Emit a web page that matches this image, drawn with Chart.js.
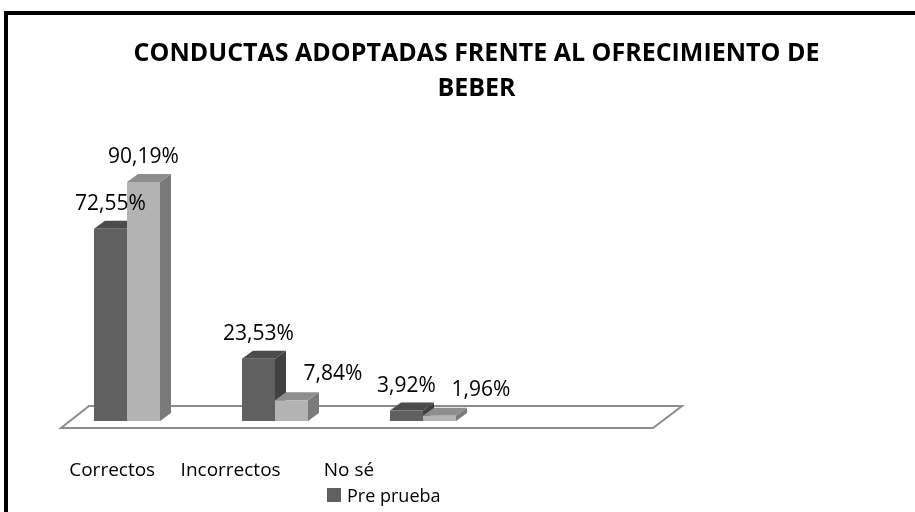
<!DOCTYPE html>
<html lang="es">
<head>
  <meta charset="UTF-8">
  <title>Conductas adoptadas frente al ofrecimiento de beber</title>
  <script src="https://cdn.jsdelivr.net/npm/chart.js"></script>
  <style>
    html, body { margin: 0; padding: 0; background: #fff; overflow: hidden; }
    #wrap { position: relative; width: 915px; height: 512px; overflow: hidden; }
    #frame {
      position: absolute; left: 4px; top: 11px; width: 1000px; height: 1000px;
      border-top: 4px solid #000; border-left: 4px solid #000;
    }
    #chart { position: absolute; left: 0; top: 0; }
    #legend {
      position: absolute; left: 327px; top: 481px;
      font-family: 'Open Sans', sans-serif; font-size: 18px; color: #000;
    }
    #legend div { display: flex; align-items: center; height: 28px; }
    #legend span.box { display: inline-block; width: 14px; height: 14px; margin-right: 6px; }
  </style>
</head>
<body>
  <div id="wrap">
    <div id="frame"></div>
    <canvas id="chart" width="915" height="512"></canvas>
    <div id="legend"></div>
  </div>

  <script>
    // datos
    const categories = ['Correctos', 'Incorrectos', 'No sé'];
    const prePrueba = [72.55, 23.53, 3.92];
    const postPrueba = [90.19, 7.84, 1.96];
    const seriesNames = ['Pre prueba', 'Post prueba'];

    // colores: frente, tapa, lado
    const shades = [
      { front: '#606060', top: '#4b4b4b', side: '#404040' },
      { front: '#b3b3b3', top: '#8e8e8e', side: '#7a7a7a' }
    ];
    const depth = { dx: 11, dy: -8 };

    // piso y caras 3D de las barras
    const bars3d = {
      id: 'bars3d',
      beforeDatasetsDraw(chart) {
        const ctx = chart.ctx;
        const area = chart.chartArea;
        const base = chart.scales.y.getPixelForValue(0);
        ctx.save();
        ctx.strokeStyle = '#8c8c8c';
        ctx.lineWidth = 2;
        ctx.beginPath();
        ctx.moveTo(area.left + 8, base + 7);
        ctx.lineTo(area.right + 8, base + 7);
        ctx.lineTo(area.right + 37, base - 15);
        ctx.lineTo(area.left + 36, base - 15);
        ctx.closePath();
        ctx.stroke();

        const metas = chart.data.datasets.map((d, i) => chart.getDatasetMeta(i));
        categories.forEach((c, idx) => {
          metas.forEach((meta, di) => {
            const bar = meta.data[idx];
            const l = bar.x - bar.width / 2, r = bar.x + bar.width / 2;
            const t = bar.y, b = bar.base;
            ctx.fillStyle = shades[di].side;
            ctx.beginPath();
            ctx.moveTo(r, t);
            ctx.lineTo(r + depth.dx, t + depth.dy);
            ctx.lineTo(r + depth.dx, b + depth.dy);
            ctx.lineTo(r, b);
            ctx.closePath();
            ctx.fill();
            ctx.fillStyle = shades[di].top;
            ctx.beginPath();
            ctx.moveTo(l, t);
            ctx.lineTo(r, t);
            ctx.lineTo(r + depth.dx, t + depth.dy);
            ctx.lineTo(l + depth.dx, t + depth.dy);
            ctx.closePath();
            ctx.fill();
          });
        });
        ctx.restore();
      },
      afterDatasetsDraw(chart) {
        const ctx = chart.ctx;
        ctx.save();
        ctx.font = '21px "Open Sans", sans-serif';
        ctx.fillStyle = '#000';
        ctx.textBaseline = 'middle';
        chart.data.datasets.forEach((ds, di) => {
          chart.getDatasetMeta(di).data.forEach((bar, i) => {
            const v = ds.data[i];
            const txt = v.toFixed(2).replace('.', ',') + '%';
            // las etiquetas pequeñas de la post prueba van corridas a la derecha
            if (di === 1 && v < 10) {
              ctx.textAlign = 'left';
              ctx.fillText(txt, bar.x + 12, bar.y - 26);
            } else {
              ctx.textAlign = 'center';
              ctx.fillText(txt, bar.x, bar.y - 25);
            }
          });
        });

        // rótulos de categoría, sobre un eje oculto con los espacios más angostos
        const xl = chart.scales.xl;
        const base = chart.scales.y.getPixelForValue(0);
        ctx.font = '19px "Open Sans", sans-serif';
        ctx.textAlign = 'center';
        categories.forEach((c, i) => {
          ctx.fillText(c, xl.getPixelForValue(i), base + 50);
        });
        ctx.restore();
      }
    };

    const chart = new Chart(document.getElementById('chart'), {
      type: 'bar',
      data: {
        labels: categories.concat(['']),
        datasets: [
          { label: seriesNames[0], data: prePrueba, backgroundColor: shades[0].front },
          { label: seriesNames[1], data: postPrueba, backgroundColor: shades[1].front }
        ]
      },
      options: {
        responsive: false,
        animation: false,
        devicePixelRatio: 1,
        categoryPercentage: 0.446,
        barPercentage: 1,
        layout: { padding: { left: 38, right: 0, top: 0, bottom: 91 } },
        plugins: {
          legend: { display: false },
          tooltip: { enabled: false },
          title: {
            display: true,
            text: ['CONDUCTAS ADOPTADAS FRENTE AL OFRECIMIENTO DE', 'BEBER'],
            color: '#000',
            font: { family: '"Open Sans", sans-serif', size: 25, weight: 'bold', lineHeight: 35 / 25 },
            padding: { top: 36, bottom: 50 }
          }
        },
        scales: {
          x: { display: false },
          xl: {
            type: 'category',
            display: false,
            offset: true,
            labels: categories.concat(['', ''])
          },
          y: {
            min: 0,
            max: 100,
            grid: { display: false },
            border: { display: false },
            ticks: { display: false },
            afterFit: (axis) => { axis.width = 15; }
          },
          yr: {
            position: 'right',
            min: 0,
            max: 100,
            grid: { display: false },
            border: { display: false },
            ticks: { display: false },
            afterFit: (axis) => { axis.width = 270; }
          }
        }
      },
      plugins: [bars3d]
    });

    // leyenda en HTML (queda cortada por el borde inferior, como en el original)
    const legend = document.getElementById('legend');
    chart.data.datasets.forEach((ds) => {
      const item = document.createElement('div');
      item.innerHTML = `<span class="box" style="background:${ds.backgroundColor}"></span>${ds.label}`;
      legend.appendChild(item);
    });
  </script>
</body>
</html>
